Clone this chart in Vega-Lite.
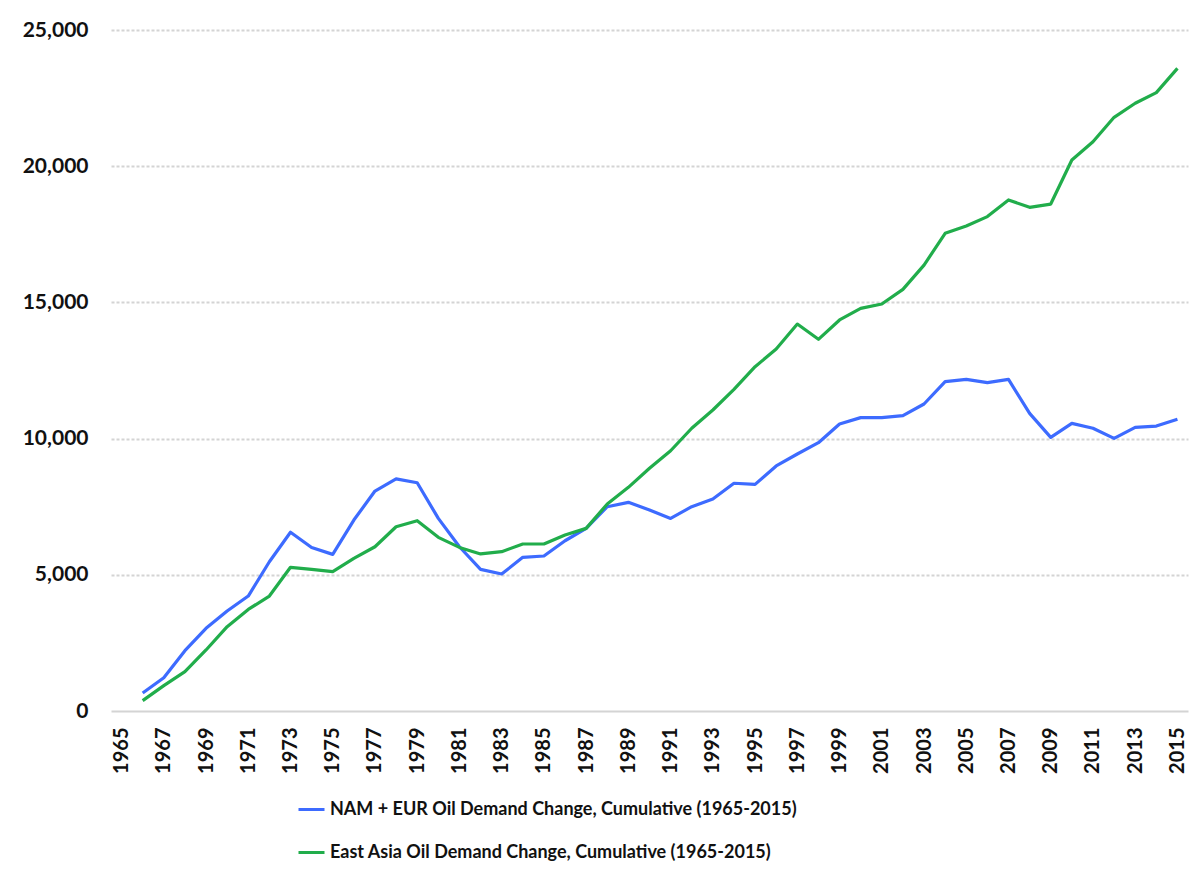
{
  "$schema": "https://vega.github.io/schema/vega-lite/v6.json",
  "autosize": "none",
  "width": 1077,
  "height": 681,
  "padding": {"left": 111, "top": 30, "right": 4, "bottom": 160},
  "background": "white",
  "config": {
    "view": {"stroke": null},
    "font": "Lato"
  },
  "data": {
    "values": [
      {"year": 1966, "nam": 660, "asia": 380},
      {"year": 1967, "nam": 1220, "asia": 930},
      {"year": 1968, "nam": 2215, "asia": 1445},
      {"year": 1969, "nam": 3035, "asia": 2240},
      {"year": 1970, "nam": 3670, "asia": 3095},
      {"year": 1971, "nam": 4220, "asia": 3730},
      {"year": 1972, "nam": 5480, "asia": 4220},
      {"year": 1973, "nam": 6560, "asia": 5275},
      {"year": 1974, "nam": 6000, "asia": 5200},
      {"year": 1975, "nam": 5750, "asia": 5115},
      {"year": 1976, "nam": 7010, "asia": 5600},
      {"year": 1977, "nam": 8075, "asia": 6030},
      {"year": 1978, "nam": 8520, "asia": 6765},
      {"year": 1979, "nam": 8380, "asia": 6985},
      {"year": 1980, "nam": 7070, "asia": 6375},
      {"year": 1981, "nam": 6030, "asia": 6005},
      {"year": 1982, "nam": 5200, "asia": 5765},
      {"year": 1983, "nam": 5030, "asia": 5850},
      {"year": 1984, "nam": 5640, "asia": 6130},
      {"year": 1985, "nam": 5690, "asia": 6130},
      {"year": 1986, "nam": 6250, "asia": 6460},
      {"year": 1987, "nam": 6705, "asia": 6705},
      {"year": 1988, "nam": 7500, "asia": 7600},
      {"year": 1989, "nam": 7660, "asia": 8210},
      {"year": 1990, "nam": 7380, "asia": 8910},
      {"year": 1991, "nam": 7070, "asia": 9555},
      {"year": 1992, "nam": 7500, "asia": 10380},
      {"year": 1993, "nam": 7780, "asia": 11050},
      {"year": 1994, "nam": 8360, "asia": 11810},
      {"year": 1995, "nam": 8320, "asia": 12640},
      {"year": 1996, "nam": 8995, "asia": 13290},
      {"year": 1997, "nam": 9435, "asia": 14205},
      {"year": 1998, "nam": 9850, "asia": 13645},
      {"year": 1999, "nam": 10535, "asia": 14355},
      {"year": 2000, "nam": 10770, "asia": 14780},
      {"year": 2001, "nam": 10770, "asia": 14940},
      {"year": 2002, "nam": 10840, "asia": 15480},
      {"year": 2003, "nam": 11270, "asia": 16370},
      {"year": 2004, "nam": 12090, "asia": 17535},
      {"year": 2005, "nam": 12175, "asia": 17805},
      {"year": 2006, "nam": 12055, "asia": 18150},
      {"year": 2007, "nam": 12175, "asia": 18760},
      {"year": 2008, "nam": 10925, "asia": 18490},
      {"year": 2009, "nam": 10045, "asia": 18610},
      {"year": 2010, "nam": 10560, "asia": 20230},
      {"year": 2011, "nam": 10380, "asia": 20900},
      {"year": 2012, "nam": 10010, "asia": 21795},
      {"year": 2013, "nam": 10415, "asia": 22310},
      {"year": 2014, "nam": 10460, "asia": 22700},
      {"year": 2015, "nam": 10710, "asia": 23590}
    ]
  },
  "transform": [
    {"fold": ["nam", "asia"], "as": ["key", "value"]},
    {"lookup": "key", "from": {"data": {"values": [
      {"key": "nam", "series": "NAM + EUR Oil Demand Change, Cumulative (1965-2015)"},
      {"key": "asia", "series": "East Asia Oil Demand Change, Cumulative (1965-2015)"}
    ]}, "key": "key", "fields": ["series"]}}
  ],
  "mark": {"type": "line", "strokeWidth": 3.2, "strokeJoin": "round"},
  "encoding": {
    "x": {
      "field": "year", "type": "quantitative",
      "scale": {"domain": [1964.5, 2015.5], "nice": false, "zero": false},
      "axis": {
        "title": null,
        "values": [1965,1967,1969,1971,1973,1975,1977,1979,1981,1983,1985,1987,1989,1991,1993,1995,1997,1999,2001,2003,2005,2007,2009,2011,2013,2015],
        "format": "d",
        "labelAngle": -90,
        "labelFont": "Lato", "labelFontSize": 20, "labelFontWeight": "bold", "labelColor": "#111111",
        "labelPadding": 16,
        "ticks": false, "grid": false, "domain": false,
        "labelOverlap": false, "labelFlush": false
      }
    },
    "y": {
      "field": "value", "type": "quantitative",
      "scale": {"domain": [0, 25000], "nice": false},
      "axis": {
        "title": null,
        "values": [0, 5000, 10000, 15000, 20000, 25000],
        "format": ",d",
        "labelFont": "Lato", "labelFontSize": 21, "labelFontWeight": "bold", "labelColor": "#111111",
        "labelPadding": 23,
        "ticks": false, "domain": false,
        "grid": true,
        "gridColor": "#d4d4d4",
        "gridWidth": {"condition": {"test": "datum.value === 0", "value": 2}, "value": 1.8},
        "gridDash": {"condition": {"test": "datum.value === 0", "value": []}, "value": [3, 2]}
      }
    },
    "color": {
      "field": "series", "type": "nominal",
      "scale": {
        "domain": ["NAM + EUR Oil Demand Change, Cumulative (1965-2015)", "East Asia Oil Demand Change, Cumulative (1965-2015)"],
        "range": ["#3d6bff", "#21ad4b"]
      },
      "legend": {
        "title": null,
        "orient": "none",
        "legendX": 186,
        "legendY": 765,
        "direction": "vertical",
        "symbolType": "stroke",
        "symbolSize": 676,
        "symbolStrokeWidth": 3,
        "labelFont": "Lato", "labelFontSize": 18, "labelFontWeight": "bold", "labelColor": "#111111",
        "labelOffset": 4,
        "labelLimit": 800,
        "rowPadding": 19,
        "padding": 0
      }
    }
  }
}
